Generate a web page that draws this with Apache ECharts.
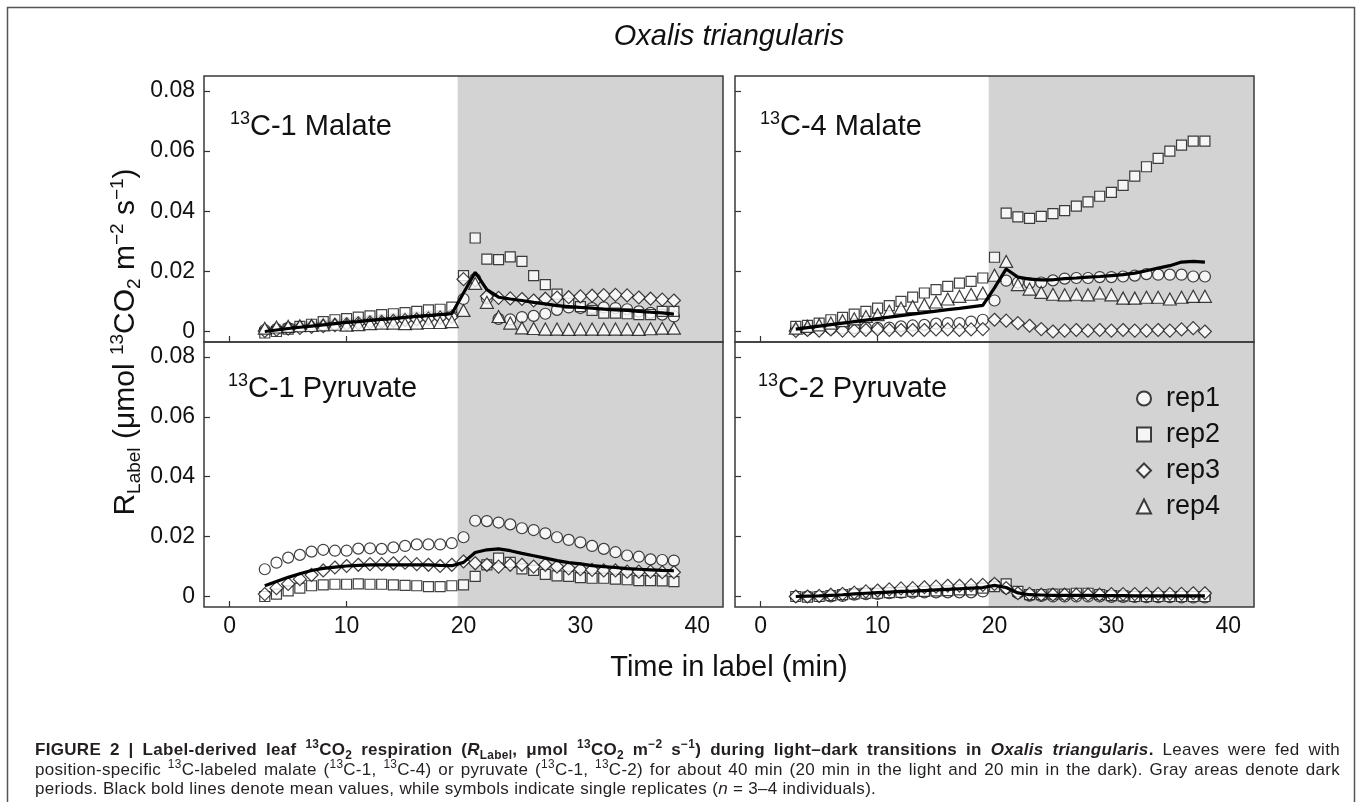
<!DOCTYPE html>
<html>
<head>
<meta charset="utf-8">
<title>Oxalis triangularis</title>
<script src="https://cdn.jsdelivr.net/npm/echarts@6/dist/echarts.min.js"></script>
<style>
    html, body { margin: 0; padding: 0; background: #fff; }
    #wrap { position: relative; width: 1357px; height: 802px; overflow: hidden; }
    #chart { position: absolute; left: 0; top: 0; width: 1357px; height: 802px; }
    #caption {
        position: absolute; left: 35px; top: 740px; width: 1305px;
        font-family: 'Liberation Sans', Arial, sans-serif; font-size: 17px;
        letter-spacing: 0.3px; line-height: 19.5px; color: #231f20;
    }
    #caption .j { text-align: justify; text-align-last: justify; white-space: nowrap; }
    #caption sup, #caption sub { font-size: 70%; line-height: 0; }
</style>
</head>
<body>
<div id="wrap">
    <div id="chart"></div>
    <div id="caption">
        <div class="j"><b>FIGURE 2 | Label-derived leaf <sup>13</sup>CO<sub>2</sub> respiration (<i>R</i><sub>Label</sub>, μmol <sup>13</sup>CO<sub>2</sub> m<sup>−2</sup> s<sup>−1</sup>) during light–dark transitions in <i>Oxalis triangularis</i>.</b> Leaves were fed with</div>
        <div class="j">position-specific <sup>13</sup>C-labeled malate (<sup>13</sup>C-1, <sup>13</sup>C-4) or pyruvate (<sup>13</sup>C-1, <sup>13</sup>C-2) for about 40 min (20 min in the light and 20 min in the dark). Gray areas denote dark</div>
        <div>periods. Black bold lines denote mean values, while symbols indicate single replicates (<i>n</i> = 3–4 individuals).</div>
    </div>
</div>
<script>
// 时间（min）
var minutes = [3, 4, 5, 6, 7, 8, 9, 10, 11, 12, 13, 14, 15, 16, 17, 18, 19, 20,
    21, 22, 23, 24, 25, 26, 27, 28, 29, 30, 31, 32, 33, 34, 35, 36, 37, 38];
var xTicks = [0, 10, 20, 30, 40];
var yTicks = [0, 0.02, 0.04, 0.06, 0.08];
var darkStart = 19.5;
var repNames = ['rep1', 'rep2', 'rep3', 'rep4'];

// 13C-1 Malate
var mal1Rep1 = [0.0005, 0.0008, 0.0012, 0.0015, 0.0018, 0.0022, 0.0025, 0.0029, 0.0032, 0.0035, 0.0038, 0.0041, 0.0044, 0.0047, 0.0050, 0.0052, 0.0055, 0.0108,
    0.0175, 0.0110, 0.0042, 0.0040, 0.0048, 0.0052, 0.0059, 0.0072, 0.0080, 0.0078, 0.0078, 0.0080, 0.0078, 0.0074, 0.0067, 0.0062, 0.0056, 0.0050];
var mal1Rep2 = [-0.0005, 0.0000, 0.0008, 0.0017, 0.0024, 0.0033, 0.0039, 0.0043, 0.0048, 0.0052, 0.0056, 0.0059, 0.0063, 0.0067, 0.0072, 0.0074, 0.0081, 0.0186,
    0.0311, 0.0241, 0.0239, 0.0248, 0.0233, 0.0186, 0.0156, 0.0124, 0.0094, 0.0083, 0.0070, 0.0061, 0.0061, 0.0059, 0.0056, 0.0056, 0.0067, 0.0067];
var mal1Rep3 = [0.0002, 0.0006, 0.0009, 0.0012, 0.0015, 0.0018, 0.0021, 0.0024, 0.0027, 0.0030, 0.0032, 0.0035, 0.0038, 0.0040, 0.0043, 0.0046, 0.0049, 0.0174,
    0.0170, 0.0117, 0.0112, 0.0110, 0.0108, 0.0103, 0.0109, 0.0113, 0.0114, 0.0117, 0.0119, 0.0121, 0.0122, 0.0120, 0.0113, 0.0109, 0.0106, 0.0103];
var mal1Rep4 = [0.0011, 0.0015, 0.0017, 0.0019, 0.0020, 0.0022, 0.0024, 0.0021, 0.0023, 0.0026, 0.0028, 0.0028, 0.0026, 0.0028, 0.0030, 0.0030, 0.0033, 0.0070,
    0.0160, 0.0097, 0.0050, 0.0028, 0.0012, 0.0010, 0.0008, 0.0008, 0.0007, 0.0008, 0.0008, 0.0008, 0.0008, 0.0008, 0.0007, 0.0009, 0.0011, 0.0011];
var mal1Mean = [0.0000, 0.0005, 0.0010, 0.0014, 0.0018, 0.0022, 0.0026, 0.0030, 0.0033, 0.0037, 0.0040, 0.0043, 0.0047, 0.0050, 0.0053, 0.0056, 0.0059, 0.0128,
    0.0197, 0.0139, 0.0114, 0.0108, 0.0103, 0.0097, 0.0092, 0.0086, 0.0083, 0.0080, 0.0078, 0.0074, 0.0072, 0.0070, 0.0067, 0.0064, 0.0062, 0.0058];

// 13C-4 Malate
var mal4Rep1 = [0.0006, 0.0007, 0.0008, 0.0009, 0.0010, 0.0011, 0.0012, 0.0012, 0.0013, 0.0017, 0.0020, 0.0022, 0.0026, 0.0028, 0.0028, 0.0033, 0.0039, 0.0103,
    0.0169, 0.0163, 0.0161, 0.0163, 0.0170, 0.0176, 0.0178, 0.0178, 0.0181, 0.0181, 0.0183, 0.0186, 0.0191, 0.0189, 0.0189, 0.0189, 0.0183, 0.0183];
var mal4Rep2 = [0.0017, 0.0020, 0.0028, 0.0039, 0.0047, 0.0058, 0.0067, 0.0078, 0.0086, 0.0100, 0.0114, 0.0128, 0.0139, 0.0150, 0.0161, 0.0167, 0.0178, 0.0247,
    0.0394, 0.0381, 0.0376, 0.0383, 0.0392, 0.0402, 0.0417, 0.0431, 0.0450, 0.0463, 0.0486, 0.0517, 0.0548, 0.0576, 0.0600, 0.0620, 0.0633, 0.0633];
var mal4Rep3 = [0.0002, 0.0005, 0.0003, 0.0007, 0.0003, 0.0003, 0.0005, 0.0007, 0.0005, 0.0005, 0.0005, 0.0005, 0.0007, 0.0007, 0.0005, 0.0007, 0.0008, 0.0039,
    0.0036, 0.0028, 0.0019, 0.0008, 0.0000, 0.0003, 0.0005, 0.0003, 0.0005, 0.0003, 0.0005, 0.0003, 0.0003, 0.0005, 0.0003, 0.0007, 0.0011, 0.0000];
var mal4Rep4 = [0.0011, 0.0017, 0.0022, 0.0028, 0.0036, 0.0042, 0.0050, 0.0056, 0.0067, 0.0078, 0.0083, 0.0089, 0.0098, 0.0108, 0.0117, 0.0124, 0.0128, 0.0187,
    0.0233, 0.0156, 0.0141, 0.0130, 0.0124, 0.0122, 0.0124, 0.0122, 0.0128, 0.0122, 0.0111, 0.0111, 0.0114, 0.0114, 0.0108, 0.0114, 0.0117, 0.0117];
var mal4Mean = [0.0008, 0.0013, 0.0018, 0.0023, 0.0028, 0.0033, 0.0038, 0.0043, 0.0048, 0.0053, 0.0058, 0.0063, 0.0068, 0.0073, 0.0077, 0.0082, 0.0087, 0.0145,
    0.0208, 0.0181, 0.0174, 0.0172, 0.0172, 0.0176, 0.0178, 0.0181, 0.0183, 0.0186, 0.0189, 0.0194, 0.0202, 0.0211, 0.0219, 0.0231, 0.0233, 0.0231];

// 13C-1 Pyruvate
var pyr1Rep1 = [0.0091, 0.0113, 0.0130, 0.0139, 0.0150, 0.0156, 0.0153, 0.0153, 0.0160, 0.0161, 0.0159, 0.0164, 0.0169, 0.0174, 0.0174, 0.0174, 0.0178, 0.0198,
    0.0253, 0.0252, 0.0247, 0.0241, 0.0228, 0.0222, 0.0211, 0.0198, 0.0189, 0.0181, 0.0169, 0.0159, 0.0148, 0.0137, 0.0133, 0.0124, 0.0122, 0.0120];
var pyr1Rep2 = [0.0000, 0.0008, 0.0019, 0.0028, 0.0036, 0.0039, 0.0041, 0.0041, 0.0042, 0.0041, 0.0041, 0.0039, 0.0037, 0.0036, 0.0033, 0.0033, 0.0036, 0.0039,
    0.0067, 0.0106, 0.0128, 0.0114, 0.0092, 0.0087, 0.0074, 0.0069, 0.0067, 0.0063, 0.0061, 0.0061, 0.0058, 0.0056, 0.0053, 0.0053, 0.0052, 0.0050];
var pyr1Rep3 = [0.0008, 0.0028, 0.0042, 0.0058, 0.0072, 0.0087, 0.0097, 0.0102, 0.0106, 0.0108, 0.0108, 0.0111, 0.0113, 0.0108, 0.0106, 0.0102, 0.0106, 0.0117,
    0.0111, 0.0106, 0.0100, 0.0106, 0.0106, 0.0100, 0.0106, 0.0100, 0.0094, 0.0091, 0.0089, 0.0087, 0.0087, 0.0083, 0.0083, 0.0083, 0.0081, 0.0081];
var pyr1Mean = [0.0036, 0.0050, 0.0064, 0.0076, 0.0087, 0.0094, 0.0098, 0.0102, 0.0104, 0.0106, 0.0106, 0.0106, 0.0106, 0.0106, 0.0106, 0.0104, 0.0103, 0.0114,
    0.0147, 0.0156, 0.0159, 0.0153, 0.0144, 0.0136, 0.0128, 0.0120, 0.0113, 0.0109, 0.0103, 0.0100, 0.0097, 0.0093, 0.0091, 0.0089, 0.0087, 0.0086];

// 13C-2 Pyruvate
var pyr2Rep1 = [0.0000, 0.0000, 0.0000, 0.0000, 0.0002, 0.0006, 0.0008, 0.0009, 0.0011, 0.0013, 0.0013, 0.0014, 0.0014, 0.0014, 0.0014, 0.0014, 0.0017, 0.0039,
    0.0028, 0.0011, 0.0003, 0.0002, 0.0000, 0.0000, 0.0000, 0.0000, 0.0000, -0.0001, -0.0001, -0.0001, -0.0002, -0.0002, -0.0002, -0.0003, -0.0003, -0.0003];
var pyr2Rep2 = [0.0000, -0.0002, 0.0000, 0.0003, 0.0006, 0.0009, 0.0011, 0.0011, 0.0013, 0.0014, 0.0017, 0.0017, 0.0019, 0.0020, 0.0022, 0.0022, 0.0028, 0.0033,
    0.0042, 0.0017, 0.0006, 0.0006, 0.0008, 0.0008, 0.0011, 0.0011, 0.0006, 0.0003, 0.0002, 0.0000, 0.0000, 0.0000, 0.0000, 0.0000, 0.0000, 0.0000];
var pyr2Rep3 = [0.0000, 0.0000, 0.0002, 0.0006, 0.0009, 0.0013, 0.0017, 0.0020, 0.0024, 0.0027, 0.0028, 0.0031, 0.0033, 0.0036, 0.0036, 0.0038, 0.0039, 0.0042,
    0.0028, 0.0011, 0.0009, 0.0006, 0.0006, 0.0006, 0.0006, 0.0006, 0.0006, 0.0008, 0.0008, 0.0008, 0.0009, 0.0009, 0.0009, 0.0009, 0.0011, 0.0011];
var pyr2Mean = [0.0000, 0.0001, 0.0002, 0.0004, 0.0006, 0.0009, 0.0011, 0.0013, 0.0015, 0.0017, 0.0018, 0.0020, 0.0022, 0.0024, 0.0026, 0.0028, 0.0030, 0.0037,
    0.0030, 0.0012, 0.0006, 0.0005, 0.0004, 0.0004, 0.0004, 0.0004, 0.0003, 0.0003, 0.0003, 0.0002, 0.0002, 0.0002, 0.0002, 0.0002, 0.0002, 0.0002];

var panels = [
    {label: 'C-1 Malate', reps: [mal1Rep1, mal1Rep2, mal1Rep3, mal1Rep4], mean: mal1Mean},
    {label: 'C-4 Malate', reps: [mal4Rep1, mal4Rep2, mal4Rep3, mal4Rep4], mean: mal4Mean},
    {label: 'C-1 Pyruvate', reps: [pyr1Rep1, pyr1Rep2, pyr1Rep3], mean: pyr1Mean},
    {label: 'C-2 Pyruvate', reps: [pyr2Rep1, pyr2Rep2, pyr2Rep3], mean: pyr2Mean}
];

var FONT = "'Liberation Sans', Arial, sans-serif";
var INK = '#111';
var X_MIN = -2.2, X_MAX = 42.2, Y_MIN = -0.0035, Y_MAX = 0.085;
var repSymbols = ['circle', 'rect', 'diamond', 'triangle'];
var repSizes = [11, 10, 13, [13, 12]];

// 网格位置
var grids = [
    {left: 204, top: 76, width: 519, height: 266},
    {left: 735, top: 76, width: 519, height: 266},
    {left: 204, top: 342, width: 519, height: 265},
    {left: 735, top: 342, width: 519, height: 265}
];

/**
 * 把数组组装成 [x, y] 点
 */
function pairs(values) {
    return values.map(function (v, i) {
        return [minutes[i], v];
    });
}

function buildAxes() {
    var xAxes = [], yAxes = [];
    grids.forEach(function (g, i) {
        var bottomRow = i >= 2, leftCol = i % 2 === 0;
        xAxes.push({
            type: 'value', gridIndex: i, min: X_MIN, max: X_MAX,
            axisLine: {show: false, onZero: false},
            axisTick: {show: true, inside: true, length: 6, customValues: xTicks,
                lineStyle: {color: '#333', width: 1.2}},
            axisLabel: {show: bottomRow, customValues: xTicks, margin: 8,
                fontSize: 23, color: INK, fontFamily: FONT},
            splitLine: {show: false}
        });
        yAxes.push({
            type: 'value', gridIndex: i, min: Y_MIN, max: Y_MAX,
            axisLine: {show: false, onZero: false},
            axisTick: {show: true, inside: true, length: 6, customValues: yTicks,
                lineStyle: {color: '#333', width: 1.2}},
            axisLabel: {show: leftCol, customValues: yTicks, margin: 9,
                fontSize: 23, color: INK, fontFamily: FONT,
                formatter: function (v) { return v === 0 ? '0' : v.toFixed(2); }},
            splitLine: {show: false}
        });
    });
    return {x: xAxes, y: yAxes};
}

function buildSeries() {
    var series = [];
    panels.forEach(function (p, i) {
        // 暗期阴影
        series.push({
            type: 'line', xAxisIndex: i, yAxisIndex: i, z: 1, silent: true,
            data: pairs(p.mean), showSymbol: false, lineStyle: {opacity: 0},
            markArea: {
                silent: true,
                itemStyle: {color: '#d3d3d3'},
                data: [[{xAxis: darkStart}, {xAxis: X_MAX}]]
            }
        });
        p.reps.forEach(function (vals, r) {
            series.push({
                name: repNames[r], type: 'scatter', xAxisIndex: i, yAxisIndex: i, z: 2,
                symbol: repSymbols[r], symbolSize: repSizes[r],
                itemStyle: {color: '#fff', borderColor: INK, borderWidth: 1.2},
                data: pairs(vals)
            });
        });
        series.push({
            name: 'mean', type: 'line', xAxisIndex: i, yAxisIndex: i, z: 3,
            showSymbol: false, symbol: 'none', smooth: false,
            lineStyle: {color: '#000', width: 3.2},
            data: pairs(p.mean)
        });
    });
    return series;
}

function buildGraphics() {
    var panelRich = {
        s: {fontSize: 18, fontFamily: FONT, fill: INK, verticalAlign: 'top'},
        m: {fontSize: 29, lineHeight: 34, fontFamily: FONT, fill: INK}
    };
    var labelPos = [[230, 110], [760, 110], [228, 372], [758, 372]];
    var items = [{
        type: 'rect', silent: true, z: 0,
        shape: {x: 7.5, y: 7.5, width: 1347, height: 820},
        style: {fill: 'none', stroke: '#555', lineWidth: 1.5}
    }, {
        type: 'text', x: 729, y: 37, silent: true,
        style: {text: 'Oxalis triangularis', font: 'italic 29px ' + FONT, fill: INK,
            align: 'center', verticalAlign: 'middle'}
    }, {
        type: 'text', x: 729, y: 668, silent: true,
        style: {text: 'Time in label (min)', font: '29px ' + FONT, fill: INK,
            align: 'center', verticalAlign: 'middle'}
    }, {
        type: 'text', x: 126, y: 342, rotation: Math.PI / 2, silent: true,
        style: {
            text: '{m|R}{sb|Label}{m| (μmol }{sp|13}{m|CO}{sb|2}{m| m}{sp|−2}{m| s}{sp|−1}{m|)}',
            align: 'center', verticalAlign: 'middle',
            rich: {
                m: {fontSize: 30, lineHeight: 36, fontFamily: FONT, fill: INK},
                sb: {fontSize: 19, fontFamily: FONT, fill: INK, verticalAlign: 'bottom'},
                sp: {fontSize: 19, fontFamily: FONT, fill: INK, verticalAlign: 'top'}
            }
        }
    }];
    panels.forEach(function (p, i) {
        items.push({
            type: 'text', x: labelPos[i][0], y: labelPos[i][1], silent: true, z: 20,
            style: {text: '{s|13}{m|' + p.label + '}', rich: panelRich,
                align: 'left', verticalAlign: 'top'}
        });
    });
    return items;
}

function oxalisChart() {
    var myChart = echarts.init(document.getElementById('chart'), null, {renderer: 'canvas'});
    var axes = buildAxes();
    var option = {
        animation: false,
        backgroundColor: '#fff',
        textStyle: {fontFamily: FONT},
        grid: grids.map(function (g) {
            return {left: g.left, top: g.top, width: g.width, height: g.height,
                show: true, z: 5, backgroundColor: 'transparent',
                borderColor: '#3a3a3a', borderWidth: 1.5, containLabel: false};
        }),
        legend: {
            data: repNames, orient: 'vertical', left: 1131, top: 380,
            itemWidth: 14, itemHeight: 14, itemGap: 9, selectedMode: false,
            textStyle: {fontSize: 27, color: INK, fontFamily: FONT, padding: [0, 0, 0, 10]}
        },
        xAxis: axes.x,
        yAxis: axes.y,
        series: buildSeries(),
        graphic: buildGraphics()
    };
    myChart.setOption(option, true);
    window.addEventListener('resize', function () {
        myChart.resize();
    });
}

oxalisChart();
</script>
</body>
</html>
